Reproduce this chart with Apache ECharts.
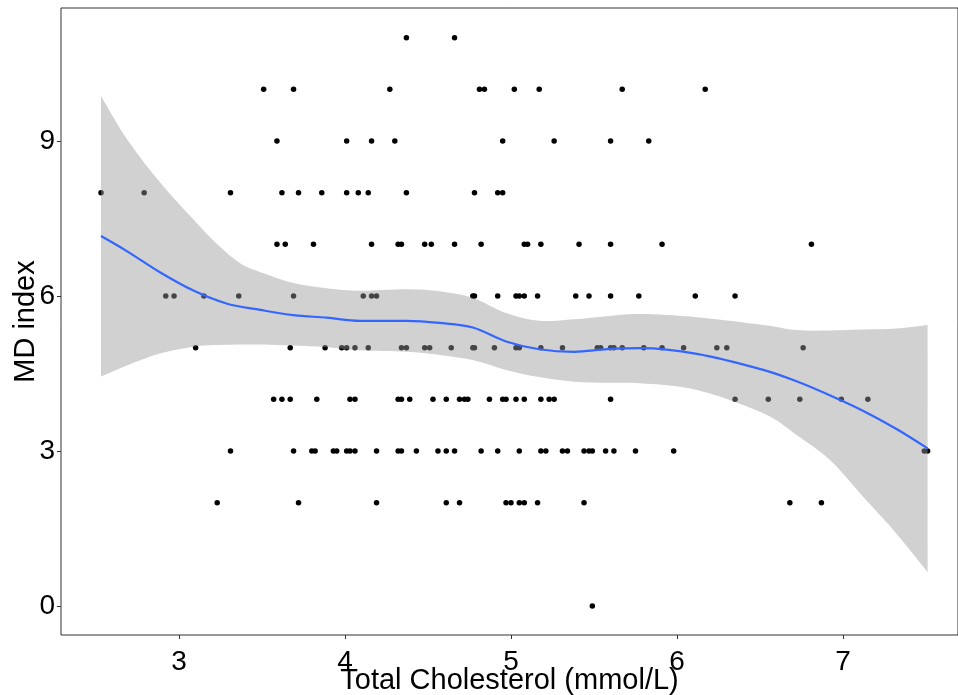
<!DOCTYPE html>
<html>
<head>
<meta charset="utf-8">
<title>MD index vs Total Cholesterol</title>
<script src="https://cdn.jsdelivr.net/npm/echarts@6.0.0/dist/echarts.min.js"></script>
<style>
  html, body { margin: 0; padding: 0; background: #fff; }
  #chart { width: 958px; height: 695px; }
</style>
</head>
<body>
<div id="chart"></div>
<script>
  // MD index levels, and the cholesterol readings observed at each level
  const mdLevels = [11, 10, 9, 8, 7, 6, 5, 4, 3, 2, 0];
  const cholByLevel = [
    [4.37, 4.66],
    [3.51, 3.69, 4.27, 4.81, 4.84, 5.02, 5.17, 5.67, 6.17],
    [3.59, 4.01, 4.16, 4.30, 4.95, 5.26, 5.60, 5.83],
    [2.53, 2.79, 3.31, 3.62, 3.72, 3.86, 4.01, 4.08, 4.14, 4.37, 4.78, 4.92, 4.95],
    [3.59, 3.64, 3.81, 4.16, 4.32, 4.34, 4.48, 4.52, 4.66, 4.82, 5.08, 5.10, 5.18, 5.41, 5.60, 5.91, 6.81],
    [2.92, 2.97, 3.15, 3.36, 3.69, 4.11, 4.16, 4.19, 4.77, 4.78, 4.92, 5.03, 5.05, 5.08, 5.16, 5.39, 5.47, 5.60, 5.77, 6.11, 6.35],
    [3.10, 3.67, 3.88, 3.98, 4.01, 4.06, 4.14, 4.34, 4.37, 4.48, 4.51, 4.64, 4.77, 4.78, 4.90, 5.03, 5.05, 5.18, 5.31, 5.52, 5.54, 5.60, 5.62, 5.67, 5.80, 5.91, 6.04, 6.24, 6.30, 6.76],
    [3.57, 3.62, 3.67, 3.83, 4.03, 4.06, 4.32, 4.34, 4.39, 4.53, 4.61, 4.69, 4.72, 4.74, 4.87, 4.95, 4.97, 5.03, 5.08, 5.18, 5.23, 5.26, 5.60, 6.35, 6.55, 6.74, 6.99, 7.15],
    [3.31, 3.69, 3.80, 3.82, 3.93, 3.95, 4.01, 4.03, 4.06, 4.19, 4.32, 4.34, 4.43, 4.56, 4.61, 4.66, 4.82, 4.92, 5.05, 5.18, 5.21, 5.31, 5.34, 5.44, 5.47, 5.49, 5.57, 5.62, 5.75, 5.98, 7.49, 7.51],
    [3.23, 3.72, 4.19, 4.61, 4.69, 4.97, 5.00, 5.05, 5.08, 5.16, 5.44, 6.68, 6.87],
    [5.49]
  ];

  // loess fit
  const fitX = [2.53, 2.69, 2.89, 3.09, 3.29, 3.49, 3.69, 3.89, 4.09, 4.37, 4.57, 4.77, 4.97, 5.17, 5.38, 5.58, 5.78, 6.12, 6.52, 6.72, 6.92, 7.12, 7.32, 7.51];
  const fitY = [7.16, 6.86, 6.45, 6.10, 5.85, 5.73, 5.63, 5.58, 5.52, 5.52, 5.48, 5.39, 5.12, 4.97, 4.92, 4.97, 4.99, 4.88, 4.57, 4.35, 4.08, 3.78, 3.43, 3.05];

  // 95% band around the fit
  const bandX     = [2.53, 2.69, 2.89, 3.09, 3.23, 3.37, 3.51, 3.69, 3.89, 4.09, 4.37, 4.57, 4.77, 4.97, 5.17, 5.38, 5.58, 5.78, 6.12, 6.52, 6.72, 6.92, 7.12, 7.32, 7.51];
  const bandLower = [4.44, 4.66, 4.89, 5.02, 5.05, 5.06, 5.06, 5.04, 5.01, 4.95, 4.92, 4.86, 4.76, 4.57, 4.43, 4.34, 4.32, 4.31, 4.18, 3.73, 3.31, 2.83, 2.12, 1.41, 0.66];
  const bandUpper = [9.87, 9.02, 8.18, 7.47, 7.00, 6.63, 6.44, 6.25, 6.15, 6.10, 6.13, 6.09, 5.96, 5.67, 5.52, 5.55, 5.61, 5.65, 5.59, 5.44, 5.34, 5.33, 5.35, 5.37, 5.44];

  const xTicks = [3, 4, 5, 6, 7];
  const yTicks = [0, 3, 6, 9];

  const points = [];
  mdLevels.forEach((md, i) => {
    cholByLevel[i].forEach(c => points.push([c, md]));
  });

  // catmull-rom through pixel points -> bezier path segments
  function splineSegs(pts) {
    let d = '';
    for (let i = 0; i < pts.length - 1; i++) {
      const p0 = pts[Math.max(i - 1, 0)];
      const p1 = pts[i];
      const p2 = pts[i + 1];
      const p3 = pts[Math.min(i + 2, pts.length - 1)];
      const c1x = p1[0] + (p2[0] - p0[0]) / 6, c1y = p1[1] + (p2[1] - p0[1]) / 6;
      const c2x = p2[0] - (p3[0] - p1[0]) / 6, c2y = p2[1] - (p3[1] - p1[1]) / 6;
      d += ' C' + c1x + ' ' + c1y + ' ' + c2x + ' ' + c2y + ' ' + p2[0] + ' ' + p2[1];
    }
    return d;
  }

  function renderBand(params, api) {
    if (params.dataIndex !== 0) return;
    const up = bandX.map((x, i) => api.coord([x, bandUpper[i]]));
    const lo = bandX.map((x, i) => api.coord([x, bandLower[i]])).reverse();
    const d = 'M' + up[0][0] + ' ' + up[0][1] + splineSegs(up) +
      ' L' + lo[0][0] + ' ' + lo[0][1] + splineSegs(lo) + ' Z';
    return {
      type: 'path',
      shape: { pathData: d },
      style: { fill: 'rgba(153,153,153,0.45)' }
    };
  }

  const chart = echarts.init(document.getElementById('chart'));
  const FONT = 'Liberation Sans, Arial, sans-serif';

  chart.setOption({
    animation: false,
    backgroundColor: '#ffffff',
    grid: {
      left: 61, top: 8, right: 0, bottom: 60,
      outerBoundsMode: 'none',
      containLabel: false,
      show: true, borderColor: '#333333', borderWidth: 1, backgroundColor: 'transparent'
    },
    xAxis: {
      type: 'value',
      min: 2.289, max: 7.693,
      name: 'Total Cholesterol (mmol/L)',
      nameLocation: 'middle',
      nameGap: 31,
      nameMoveOverlap: false,
      nameTextStyle: { fontFamily: FONT, fontSize: 29, color: '#000', verticalAlign: 'top' },
      axisLine: { show: false, onZero: false },
      splitLine: { show: false },
      axisTick: { show: true, customValues: xTicks, length: 4, lineStyle: { color: '#333' } },
      axisLabel: { customValues: xTicks, margin: 13, fontFamily: FONT, fontSize: 28, color: '#000' }
    },
    yAxis: {
      type: 'value',
      min: -0.561, max: 11.574,
      name: 'MD index',
      nameLocation: 'middle',
      nameGap: 21,
      nameMoveOverlap: false,
      nameTextStyle: { fontFamily: FONT, fontSize: 29, color: '#000' },
      axisLine: { show: false, onZero: false },
      splitLine: { show: false },
      axisTick: { show: true, customValues: yTicks, length: 4, lineStyle: { color: '#333' } },
      axisLabel: { customValues: yTicks, margin: 6, fontFamily: FONT, fontSize: 28, color: '#000' }
    },
    series: [
      {
        type: 'scatter',
        data: points,
        symbolSize: 5.5,
        itemStyle: { color: '#000', opacity: 1 },
        z: 1
      },
      {
        type: 'custom',
        data: [[bandX[0], bandUpper[0]]],
        renderItem: renderBand,
        clip: true,
        z: 2
      },
      {
        type: 'line',
        data: fitX.map((x, i) => [x, fitY[i]]),
        smooth: 0.35,
        symbol: 'none',
        lineStyle: { color: '#3366FF', width: 2.2 },
        z: 3
      }
    ]
  });
</script>
</body>
</html>
